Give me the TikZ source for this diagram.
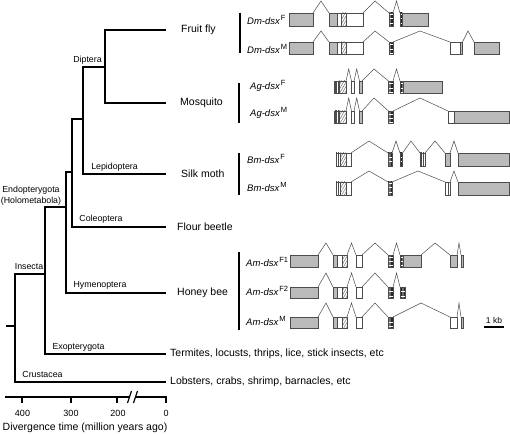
\documentclass[tikz,border=0pt]{standalone}
\usepackage{fontspec}
\setmainfont{Liberation Sans}
\usetikzlibrary{patterns.meta}
\newcommand\exo[3]{\path[#3] (#1,\yt) rectangle (#2,\yb);}
\newcommand\intn[3]{\draw[intr] (#1,\yt) -- (#2,\yp) -- (#3,\yt);}
\newcommand\gl[2]{{\itshape #1}\kern1pt\raisebox{3.6pt}{\fontsize{7.5}{9}\selectfont\upshape #2}}
\tikzset{
 tree/.style={line width=1.6pt, black},
 bar/.style={line width=1.5pt, black},
 axisl/.style={line width=1.8pt, black},
 sp/.style={font=\fontsize{10.5}{12}\selectfont, anchor=west, inner sep=0pt},
 cl/.style={font=\fontsize{8.8}{10.5}\selectfont, inner sep=0pt, align=center},
 gn/.style={font=\fontsize{9.5}{11}\selectfont, anchor=west, inner sep=0pt},
 tk/.style={font=\fontsize{9}{10}\selectfont, inner sep=0pt},
 ebox/.style={draw=black!70, line width=0.45pt},
 eg/.style={ebox, fill=black!27},
 ew/.style={ebox, fill=white},
 eh/.style={ebox, pattern={Lines[angle=60,distance=2.2pt,line width=0.5pt]}, pattern color=black!55},
 es/.style={ebox, pattern={Lines[angle=0,distance=1.3pt,line width=0.8pt]}, pattern color=black!85},
 ev/.style={ebox, pattern={Lines[angle=90,distance=1.7pt,line width=0.45pt]}, pattern color=black!70},
 intr/.style={draw=black!70, line width=0.5pt},
}
\begin{document}
\begin{tikzpicture}[x=1pt,y=-1pt]
\fill[white] (0,0) rectangle (510,435);
\useasboundingbox (0,0) rectangle (510,435);

% ---------- tree ----------
\coordinate (rt) at (6,326);
\coordinate (jA) at (15,326);
\coordinate (jI) at (45,274);
\coordinate (jE) at (66,207);
\coordinate (jH) at (72,172);
\coordinate (jL) at (83,119);
\coordinate (jD) at (105,67);
\coordinate (tFF) at (166,30);
\coordinate (tMO) at (166,103);
\coordinate (tSM) at (166,174);
\coordinate (tFB) at (166,227);
\coordinate (tHB) at (166,293);
\coordinate (tEX) at (166,354);
\coordinate (tCR) at (166,382);

\draw[tree] (tFF) -| (jD) |- (tMO);
\draw[tree] (jD) -| (jL) |- (tSM);
\draw[tree] (jL) -| (jH) |- (tFB);
\draw[tree] (jH) -| (jE) |- (tHB);
\draw[tree] (jE) -| (jI) |- (tEX);
\draw[tree] (jI) -| (jA) |- (tCR);
\draw[tree] (rt) -- (jA);

\node[cl] (lDip) at (87.5,60) {Diptera};
\node[cl] (lLep) at (114.5,167) {Lepidoptera};
\node[cl] (lEnd) at (31,195.5) {Endopterygota\\(Holometabola)};
\node[cl] (lCol) at (101,219) {Coleoptera};
\node[cl] (lIns) at (29,267) {Insecta};
\node[cl] (lHym) at (100,285) {Hymenoptera};
\node[cl] (lExo) at (78.5,347) {Exopterygota};
\node[cl] (lCru) at (42.5,374) {Crustacea};

\node[sp] (sFF) at (181,30) {Fruit fly};
\node[sp] (sMO) at (180,103) {Mosquito};
\node[sp] (sSM) at (181,174) {Silk moth};
\node[sp] (sFB) at (177,227) {Flour beetle};
\node[sp] (sHB) at (177,293) {Honey bee};
\node[sp] (sEX) at (170,354) {Termites, locusts, thrips, lice, stick insects, etc};
\node[sp] (sCR) at (170,382) {Lobsters, crabs, shrimp, barnacles, etc};

% ---------- axis ----------
\coordinate (a0) at (5,397);
\coordinate (aB1) at (130,397);
\coordinate (aB2) at (135,397);
\coordinate (aE) at (166,397);
\coordinate (aE2) at (166,403);
\draw[axisl] (a0) -- (aB1);
\draw[axisl] (aB2) -- (aE) -- (aE2);
\foreach \x/\n in {22/t4,71/t3,117/t2}{
  \coordinate (\n) at (\x,397);
  \draw[axisl] (\n) -- ++(0,6);
}
\draw[line width=1.2pt] (127.5,403) -- (131.5,391);
\draw[line width=1.2pt] (133.5,403) -- (137.5,391);
\node[tk] (k4) at (22.5,413) {400};
\node[tk] (k3) at (71,413) {300};
\node[tk] (k2) at (118,413) {200};
\node[tk] (k0) at (166,413) {0};
\node[font=\fontsize{10.5}{12}\selectfont, inner sep=0pt] (xl) at (85,428) {Divergence time (million years ago)};

% ---------- species bars & gene labels ----------
\draw[bar] (240,13) -- (240,53);
\draw[bar] (239,83) -- (239,123);
\draw[bar] (239,153) -- (239,195);
\draw[bar] (239,252) -- (239,330);

\node[gn] (gDmF) at (247,20) {\gl{Dm-dsx}{F}};
\node[gn] (gDmM) at (247,49) {\gl{Dm-dsx}{M}};
\node[gn] (gAgF) at (250,86) {\gl{Ag-dsx}{F}};
\node[gn] (gAgM) at (250,113) {\gl{Ag-dsx}{M}};
\node[gn] (gBmF) at (247,159) {\gl{Bm-dsx}{F}};
\node[gn] (gBmM) at (247,187) {\gl{Bm-dsx}{M}};
\node[gn] (gAmF1) at (246,262) {\gl{Am-dsx}{F1}};
\node[gn] (gAmF2) at (246,291) {\gl{Am-dsx}{F2}};
\node[gn] (gAmM) at (246,321) {\gl{Am-dsx}{M}};

% ---------- Dm F ----------
\def\yt{13}\def\yb{26}\def\yp{1}
\exo{289}{313}{eg}
\intn{313}{321}{329}
\exo{329}{337}{eg}\exo{337}{341}{ew}\exo{341}{346}{eh}\exo{346}{363}{ew}
\intn{363}{375}{389}
\exo{389}{393}{es}
\intn{393}{396.5}{400}
\exo{400}{402.5}{es}\exo{402.5}{428}{eg}

% ---------- Dm M ----------
\def\yt{42}\def\yb{54}\def\yp{31}
\exo{289}{313}{eg}
\intn{313}{321}{329}
\exo{329}{337}{eg}\exo{337}{341}{ew}\exo{341}{346}{eh}\exo{346}{363}{ew}
\intn{363}{375}{389}
\exo{389}{393}{es}
\intn{393}{420}{450}
\exo{450}{460}{ew}\exo{460}{462.5}{eg}
\intn{462.5}{468}{474}
\exo{474}{499}{eg}

% ---------- Ag F ----------
\def\yt{81}\def\yb{93}\def\yp{69}
\exo{334}{339}{ev}\exo{339}{346}{eh}
\intn{346}{348.7}{351.5}
\exo{351.5}{354}{ew}
\intn{354}{356.7}{359.5}
\exo{359.5}{362}{eg}
\intn{362}{374}{388.5}
\exo{388.5}{393}{es}
\intn{393}{396.5}{400}
\exo{400}{403}{es}\exo{403}{442}{eg}

% ---------- Ag M ----------
\def\yt{111}\def\yb{123}\def\yp{98}
\exo{334}{339}{ev}\exo{339}{346}{eh}
\intn{346}{348.7}{351.5}
\exo{351.5}{354}{ew}
\intn{354}{356.7}{359.5}
\exo{359.5}{362}{eg}
\intn{362}{374}{388.5}
\exo{388.5}{393}{es}
\intn{393}{420}{448}
\exo{448}{454}{ew}\exo{454}{509}{eg}

% ---------- Bm F ----------
\def\yt{153}\def\yb{166}\def\yp{141}
\exo{336}{340}{ev}\exo{340}{346}{eh}\exo{346}{351}{ew}
\intn{351}{369}{388}
\exo{388}{392}{es}
\intn{392}{396}{400}
\exo{400}{402.5}{es}
\intn{402.5}{411}{420}
\exo{420}{425}{ev}
\intn{425}{435}{445}
\exo{445}{450}{eg}
\intn{450}{454}{458}
\exo{458}{509}{eg}

% ---------- Bm M ----------
\def\yt{182}\def\yb{195}\def\yp{171}
\exo{336}{340}{ev}\exo{340}{346}{eh}\exo{346}{351}{ew}
\intn{351}{369}{388}
\exo{388}{392}{es}
\intn{392}{418}{445}
\exo{445}{448}{ew}\exo{448}{450}{ew}
\intn{450}{454}{458}
\exo{458}{509}{eg}

% ---------- Am F1 ----------
\def\yt{255}\def\yb{267}\def\yp{243}
\exo{290}{318}{eg}
\intn{318}{326}{333}
\exo{333}{337}{eg}\exo{337}{342}{ew}\exo{342}{347}{eh}
\intn{347}{351.5}{356}
\exo{356}{362}{ew}
\intn{362}{375}{388}
\exo{388}{393}{es}
\intn{393}{396.5}{400}
\exo{400}{403}{es}\exo{403}{421}{eg}
\intn{421}{435}{450}
\exo{450}{457}{eg}
\intn{457}{459}{461}
\exo{461}{463.5}{eg}

% ---------- Am F2 ----------
\def\yt{287}\def\yb{298}\def\yp{273}
\exo{290}{318}{eg}
\intn{318}{326}{333}
\exo{333}{337}{eg}\exo{337}{342}{ew}\exo{342}{347}{eh}
\intn{347}{351.5}{356}
\exo{356}{362}{ew}
\intn{362}{375}{388}
\exo{388}{393}{es}
\intn{393}{396.5}{400}
\exo{400}{405}{es}

% ---------- Am M ----------
\def\yt{317}\def\yb{328}\def\yp{303}
\exo{290}{318}{eg}
\intn{318}{326}{333}
\exo{333}{337}{eg}\exo{337}{342}{ew}\exo{342}{347}{eh}
\intn{347}{351.5}{356}
\exo{356}{362}{ew}
\intn{362}{375}{388}
\exo{388}{393}{es}
\intn{393}{421}{450}
\exo{450}{457}{ew}
\intn{457}{459}{461}
\exo{461}{463.5}{eg}

% ---------- scale bar ----------
\coordinate (sb1) at (484,327);
\coordinate (sb2) at (504,327);
\draw[line width=1.5pt] (sb1) -- (sb2);
\node[font=\fontsize{8.5}{10}\selectfont, inner sep=0pt] (kb) at (494,320) {1 kb};
\end{tikzpicture}
\end{document}
